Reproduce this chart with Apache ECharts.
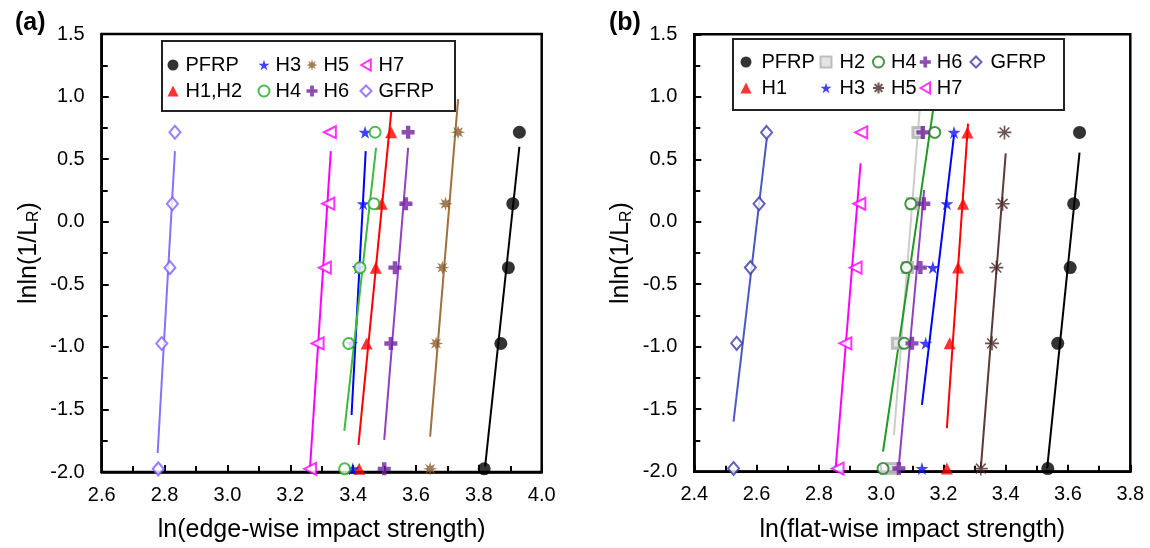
<!DOCTYPE html>
<html><head><meta charset="utf-8">
<script src="https://cdn.jsdelivr.net/npm/echarts@6/dist/echarts.min.js"></script>
<style>html,body{margin:0;padding:0;background:#fff}#c{width:1150px;height:548px}</style>
</head><body><div id="c"></div>
<script>
// y positions (Weibull median ranks) shared by every series, bottom -> top
const yRank = [-1.975, -0.973, -0.367, 0.144, 0.715];

// panel (a): ln(edge-wise impact strength)
const aPFRP = [3.817, 3.870, 3.894, 3.908, 3.929];
const aH1H2 = [3.419, 3.443, 3.472, 3.491, 3.521];
const aH3   = [3.399, 3.395, 3.416, 3.432, 3.438];
const aH4   = [3.373, 3.386, 3.422, 3.466, 3.470];
const aH5   = [3.645, 3.664, 3.684, 3.694, 3.734];
const aH6   = [3.499, 3.520, 3.533, 3.568, 3.575];
const aH7   = [3.263, 3.287, 3.310, 3.321, 3.326];
const aGFRP = [2.780, 2.791, 2.817, 2.825, 2.833];
// fitted lines (a): [x, y] at both ends
const aFitPFRP = [[3.820, -1.955], [3.929, 0.599]];
const aFitH1H2 = [[3.417, -1.783], [3.526, 1.000]];
const aFitH3   = [[3.395, -1.544], [3.440, 0.564]];
const aFitH4   = [[3.372, -1.672], [3.473, 0.591]];
const aFitH5   = [[3.645, -1.717], [3.734, 0.980]];
const aFitH6   = [[3.499, -1.743], [3.575, 0.591]];
const aFitH7   = [[3.263, -1.960], [3.329, 0.564]];
const aFitGFRP = [[2.778, -1.849], [2.833, 0.564]];

// panel (b): ln(flat-wise impact strength)
const bPFRP = [3.535, 3.567, 3.607, 3.618, 3.637];
const bH1   = [3.211, 3.220, 3.247, 3.263, 3.277];
const bH2   = [3.035, 3.052, 3.085, 3.100, 3.118];
const bH3   = [3.131, 3.143, 3.166, 3.211, 3.234];
const bH4   = [3.006, 3.074, 3.081, 3.095, 3.172];
const bH5   = [3.320, 3.356, 3.370, 3.390, 3.396];
const bH6   = [3.057, 3.099, 3.126, 3.137, 3.134];
const bH7   = [2.860, 2.885, 2.918, 2.930, 2.936];
const bGFRP = [2.526, 2.536, 2.580, 2.608, 2.632];
const bFitPFRP = [[3.533, -1.974], [3.637, 0.553]];
const bFitH1   = [[3.211, -1.652], [3.279, 0.785]];
const bFitH2   = [[3.041, -1.706], [3.127, 1.000]];
const bFitH3   = [[3.131, -1.466], [3.234, 0.694]];
const bFitH4   = [[3.006, -1.839], [3.173, 1.000]];
const bFitH5   = [[3.320, -1.974], [3.400, 0.547]];
const bFitH6   = [[3.057, -1.946], [3.138, 0.254]];
const bFitH7   = [[2.854, -1.970], [2.934, 0.468]];
const bFitGFRP = [[2.526, -1.599], [2.634, 0.694]];

// axis ranges / labels
const xRangeA = [2.6, 4.0], xRangeB = [2.4, 3.8], yRange = [-2.0, 1.5];
const xNameA = 'ln(edge-wise impact strength)';
const xNameB = 'ln(flat-wise impact strength)';
const yName = 'lnln(1/L{sub|R})';

const FONT = '"Liberation Sans", Arial, sans-serif';
const STAR5 = 'path://M50,0L61.2,34.5L97.6,34.5L68.2,55.9L79.4,90.5L50,69.1L20.6,90.5L31.8,55.9L2.4,34.5L38.8,34.5Z';
const PLUS = 'path://M33,0H67V33H100V67H67V100H33V67H0V33H33Z';
const SUN8 = 'path://M100,50L71,58.7L85.4,85.4L58.7,71L50,100L41.3,71L14.6,85.4L29,58.7L0,50L29,41.3L14.6,14.6L41.3,29L50,0L58.7,29L85.4,14.6L71,41.3Z';
const AST = 'path://M50,0L50,100M0,50L100,50M15,15L85,85M85,15L15,85';
const LTRI = 'path://M0,50L87,0L87,100Z';

function pts(xs) { return xs.map((x, i) => [x, yRank[i]]); }

function sc(name, xs, g, symbol, size, style) {
  return { type: 'scatter', name: name, xAxisIndex: g, yAxisIndex: g, data: pts(xs),
    symbol: symbol, symbolSize: size, itemStyle: style, z: 3, silent: true };
}
function fit(name, d, g, color) {
  return { type: 'line', name: name + ' fit', xAxisIndex: g, yAxisIndex: g, data: d,
    showSymbol: false, symbol: 'none', lineStyle: { color: color, width: 2 }, z: 2, silent: true };
}

const S = '#b'; // suffix for panel (b) names, stripped in legend
const series = [
  fit('PFRP', aFitPFRP, 0, '#000'),
  fit('H1,H2', aFitH1H2, 0, '#ff0000'),
  fit('H3', aFitH3, 0, '#0000ff'),
  fit('H4', aFitH4, 0, '#3cbb3c'),
  fit('H5', aFitH5, 0, '#a0703f'),
  fit('H6', aFitH6, 0, '#9040c0'),
  fit('H7', aFitH7, 0, '#ff00ff'),
  fit('GFRP', aFitGFRP, 0, '#8a70ff'),
  sc('PFRP', aPFRP, 0, 'circle', 13, { color: '#000' }),
  sc('H1,H2', aH1H2, 0, 'triangle', 12, { color: '#ff0000' }),
  sc('H3', aH3, 0, STAR5, 13, { color: '#1010ff' }),
  sc('H4', aH4, 0, 'emptyCircle', 11, { color: '#22aa22', borderColor: '#22aa22', borderWidth: 2.5 }),
  sc('H5', aH5, 0, SUN8, 14, { color: '#8b5a2b' }),
  sc('H6', aH6, 0, PLUS, 13, { color: '#7020a0' }),
  sc('H7', aH7, 0, LTRI, 12, { color: '#fff', borderColor: '#ff00ff', borderWidth: 2 }),
  sc('GFRP', aGFRP, 0, 'emptyDiamond', [11, 13], { color: '#7f5fff', borderColor: '#7f5fff', borderWidth: 2 }),

  fit('PFRP' + S, bFitPFRP, 1, '#000'),
  fit('H1' + S, bFitH1, 1, '#ff0000'),
  fit('H2' + S, bFitH2, 1, '#cccccc'),
  fit('H3' + S, bFitH3, 1, '#0000ff'),
  fit('H4' + S, bFitH4, 1, '#229922'),
  fit('H5' + S, bFitH5, 1, '#5a3a3a'),
  fit('H6' + S, bFitH6, 1, '#9040c0'),
  fit('H7' + S, bFitH7, 1, '#ff00ff'),
  fit('GFRP' + S, bFitGFRP, 1, '#4a5ac0'),
  sc('PFRP' + S, bPFRP, 1, 'circle', 13, { color: '#000' }),
  sc('H1' + S, bH1, 1, 'triangle', 12, { color: '#ff0000' }),
  sc('H2' + S, bH2, 1, 'rect', 10, { color: '#dddddd', borderColor: '#b0b0b0', borderWidth: 3 }),
  sc('H3' + S, bH3, 1, STAR5, 13, { color: '#1010ff' }),
  sc('H4' + S, bH4, 1, 'emptyCircle', 11, { color: '#1a7a1a', borderColor: '#1a7a1a', borderWidth: 2.5 }),
  sc('H5' + S, bH5, 1, AST, 14, { color: 'none', borderColor: '#4a2828', borderWidth: 1.6 }),
  sc('H6' + S, bH6, 1, PLUS, 13, { color: '#7020a0' }),
  sc('H7' + S, bH7, 1, LTRI, 12, { color: '#fff', borderColor: '#ff00ff', borderWidth: 2 }),
  sc('GFRP' + S, bGFRP, 1, 'emptyDiamond', [11, 13], { color: '#3a3aaa', borderColor: '#3a3aaa', borderWidth: 2 })
];

function xAx(g, range, name) {
  return { gridIndex: g, type: 'value', min: range[0], max: range[1], interval: 0.2,
    name: name, nameLocation: 'middle', nameGap: 46,
    nameTextStyle: { fontSize: 25, color: '#000', fontFamily: FONT },
    axisLine: { show: true, onZero: false, lineStyle: { color: '#000', width: 2.5 } },
    axisTick: { show: true, inside: true, length: 7, lineStyle: { color: '#000', width: 2 } },
    minorTick: { show: true, splitNumber: 2, length: 6, lineStyle: { color: '#000', width: 2 } },
    axisLabel: { fontSize: 20, color: '#000', margin: 13, fontFamily: FONT, formatter: v => v.toFixed(1) },
    splitLine: { show: false } };
}
function yAx(g) {
  return { gridIndex: g, type: 'value', min: yRange[0], max: yRange[1], interval: 0.5,
    name: yName, nameLocation: 'middle', nameGap: 60,
    nameTextStyle: { fontSize: 25, color: '#000', fontFamily: FONT,
      rich: { sub: { fontSize: 16, color: '#000', fontFamily: FONT, padding: [10, 0, 0, 0] } } },
    axisLine: { show: true, onZero: false, lineStyle: { color: '#000', width: 2.5 } },
    axisTick: { show: true, inside: true, length: 7, lineStyle: { color: '#000', width: 2 } },
    minorTick: { show: true, splitNumber: 2, length: 6, lineStyle: { color: '#000', width: 2 } },
    axisLabel: { fontSize: 20, color: '#000', margin: 17, fontFamily: FONT, formatter: v => v.toFixed(1) },
    splitLine: { show: false } };
}
function legCol(left, top, names, pad) {
  return { orient: 'vertical', left: left, top: top, data: names, itemWidth: 11, itemHeight: 11,
    itemGap: 6, padding: 0, selectedMode: false, z: 10, backgroundColor: 'transparent',
    formatter: n => n.replace(S, ''),
    textStyle: { fontSize: 20, color: '#000', fontFamily: FONT, padding: [0, 0, 0, pad] } };
}

const option = {
  backgroundColor: '#fff',
  animation: false,
  title: [
    { text: '(a)', left: 10, top: 6, textStyle: { fontSize: 25, fontWeight: 'bold', color: '#000', fontFamily: FONT } },
    { text: '(b)', left: 604, top: 6, textStyle: { fontSize: 25, fontWeight: 'bold', color: '#000', fontFamily: FONT } }
  ],
  grid: [
    { left: 101.7, top: 34, width: 440, height: 440, show: true, borderColor: '#000', borderWidth: 2.5, containLabel: false },
    { left: 694.3, top: 34.3, width: 436, height: 437.4, show: true, borderColor: '#000', borderWidth: 2.5, containLabel: false }
  ],
  xAxis: [xAx(0, xRangeA, xNameA), xAx(1, xRangeB, xNameB)],
  yAxis: [yAx(0), yAx(1)],
  legend: [
    legCol(167.5, 55, ['PFRP', 'H1,H2'], 2),
    legCol(257.5, 55, ['H3', 'H4'], 1),
    legCol(306.5, 55, ['H5', 'H6'], 1),
    legCol(359.5, 55, ['H7', 'GFRP'], 2),
    legCol(740.5, 52, ['PFRP' + S, 'H1' + S], 5),
    legCol(819.5, 52, ['H2' + S, 'H3' + S], 3),
    legCol(870.5, 52, ['H4' + S, 'H5' + S], 2),
    legCol(919.5, 52, ['H6' + S, 'H7' + S], 1),
    legCol(969.5, 52, ['GFRP' + S], 4)
  ],
  graphic: [
    { type: 'rect', z: 5, shape: { x: 162, y: 41, width: 293, height: 70 }, style: { fill: '#fff', stroke: '#222', lineWidth: 2 } },
    { type: 'rect', z: 5, shape: { x: 733, y: 39, width: 331, height: 71 }, style: { fill: '#fff', stroke: '#222', lineWidth: 2 } }
  ],
  series: series
};
const chart = echarts.init(document.getElementById('c'), null, { renderer: 'canvas' });
chart.setOption(option);
</script></body></html>
